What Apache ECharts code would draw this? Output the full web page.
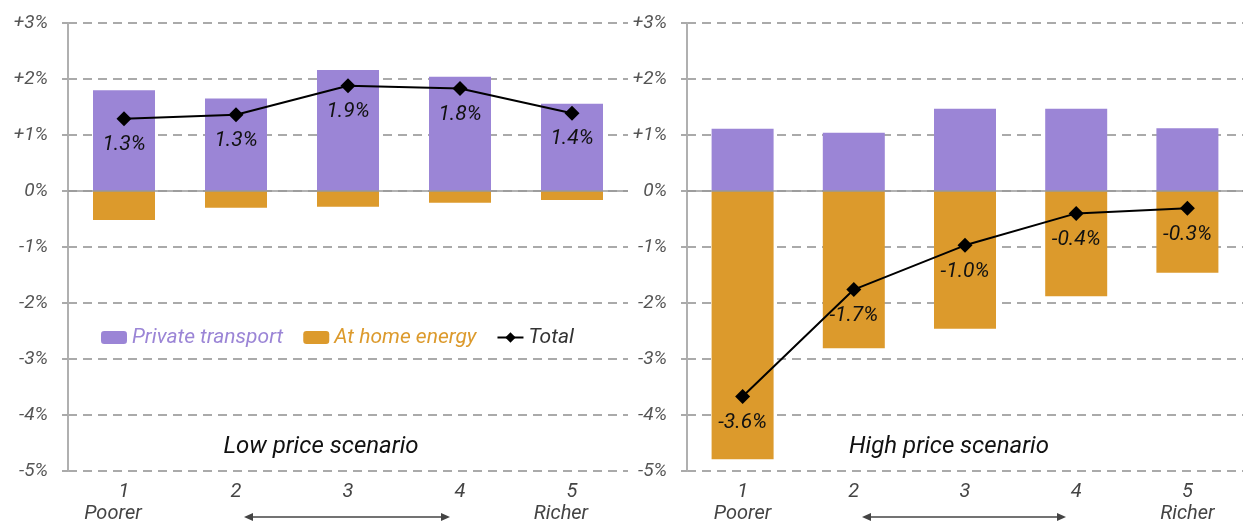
<!DOCTYPE html>
<html lang="en">
<head>
    <meta charset="UTF-8">
    <title>Low vs high price scenario</title>
    <script src="https://cdn.jsdelivr.net/npm/echarts@6.0.0/dist/echarts.min.js"></script>
    <style>
        html, body { margin: 0; padding: 0; background: #fff; }
        #chart { width: 1243px; height: 527px; }
    </style>
</head>
<body>
    <div id="chart"></div>
    <script>
        // Income quintiles
        var categories = ['1', '2', '3', '4', '5'];
        var categoryNotes = ['Poorer', '', '', '', 'Richer'];

        // Low price scenario (% change)
        var lowTransport = [1.80, 1.65, 2.16, 2.04, 1.56];
        var lowEnergy = [-0.52, -0.30, -0.28, -0.21, -0.16];
        var lowTotal = [1.29, 1.36, 1.88, 1.83, 1.39];
        var lowTotalLabels = ['1.3%', '1.3%', '1.9%', '1.8%', '1.4%'];

        // High price scenario (% change)
        var highTransport = [1.11, 1.04, 1.47, 1.47, 1.12];
        var highEnergy = [-4.79, -2.81, -2.46, -1.88, -1.46];
        var highTotal = [-3.67, -1.76, -0.97, -0.40, -0.31];
        var highTotalLabels = ['-3.6%', '-1.7%', '-1.0%', '-0.4%', '-0.3%'];

        var purple = '#9b85d6';
        var orange = '#dc9a2c';
        var font = 'Roboto';

        var chart = echarts.init(document.getElementById('chart'));

        function yAxis(idx) {
            return {
                gridIndex: idx, type: 'value', min: -5, max: 3, interval: 1,
                axisLine: { show: true, lineStyle: { color: '#b0b0b0', width: 2 } },
                axisTick: { show: true, length: 6, lineStyle: { color: '#aaa', width: 2 } },
                splitLine: { lineStyle: { color: '#aaa', width: 2, type: [9, 6] } },
                axisLabel: {
                    margin: 20, fontSize: 19, fontStyle: 'italic', fontFamily: font, color: '#555',
                    formatter: function (v) { return (v > 0 ? '+' : '') + v + '%'; }
                }
            };
        }

        function xAxis(idx, shift) {
            var base = { fontSize: 20, lineHeight: 22, fontStyle: 'italic', fontFamily: font, color: '#444' };
            return {
                gridIndex: idx, type: 'category', data: categories, position: 'bottom',
                axisLine: { show: false }, axisTick: { show: false },
                axisLabel: {
                    margin: 10, interval: 0,
                    fontSize: 20, lineHeight: 22, fontStyle: 'italic', fontFamily: font, color: '#444',
                    formatter: function (v, i) {
                        var note = categoryNotes[i];
                        return note ? '{n|' + v + '}\n{p|' + note + '}' : '{n|' + v + '}';
                    },
                    rich: {
                        n: base,
                        p: Object.assign({}, base, { padding: [0, shift, 0, 0] })
                    }
                }
            };
        }

        function barSeries(name, idx, data, color, stack, zero) {
            var s = {
                name: name, type: 'bar', stack: stack, xAxisIndex: idx, yAxisIndex: idx,
                data: data, barWidth: 62, itemStyle: { color: color }
            };
            if (zero) {
                s.markLine = {
                    silent: true, symbol: 'none', label: { show: false },
                    lineStyle: { color: '#999', type: 'solid', width: 1.5 },
                    data: [{ yAxis: 0 }]
                };
            }
            return s;
        }

        function totalSeries(idx, data, labels) {
            return {
                name: 'Total', type: 'line', xAxisIndex: idx, yAxisIndex: idx, data: data,
                symbol: 'diamond', symbolSize: 15, z: 5,
                lineStyle: { color: '#000', width: 2 },
                itemStyle: { color: '#000' },
                label: {
                    show: true, position: 'bottom', distance: 8, fontSize: 21,
                    fontStyle: 'italic', fontFamily: font, color: '#111',
                    formatter: function (p) { return labels[p.dataIndex]; }
                }
            };
        }

        function arrow(x1, x2, y) {
            return [
                { type: 'line', shape: { x1: x1 + 4, y1: y, x2: x2 - 4, y2: y }, style: { stroke: '#444', lineWidth: 1.5 } },
                { type: 'polygon', shape: { points: [[x1, y], [x1 + 9, y - 4], [x1 + 9, y + 4]] }, style: { fill: '#444' } },
                { type: 'polygon', shape: { points: [[x2, y], [x2 - 9, y - 4], [x2 - 9, y + 4]] }, style: { fill: '#444' } }
            ];
        }

        var titleStyle = { fontSize: 24, fontWeight: 'normal', fontStyle: 'italic', fontFamily: font, color: '#111' };

        var option = {
            animation: false,
            title: [
                { text: 'Low price scenario', left: 316, top: 430, textAlign: 'center', textStyle: titleStyle },
                { text: 'High price scenario', left: 944, top: 430, textAlign: 'center', textStyle: titleStyle }
            ],
            legend: {
                left: 96, top: 322, itemWidth: 26, itemHeight: 13, itemGap: 20,
                textStyle: { fontSize: 21, fontStyle: 'italic', fontFamily: font },
                data: [
                    { name: 'Private transport', textStyle: { color: purple } },
                    { name: 'At home energy', textStyle: { color: orange } },
                    { name: 'Total', textStyle: { color: '#333' } }
                ]
            },
            grid: [
                { left: 68, top: 23, width: 560, height: 448 },
                { left: 687, top: 23, width: 557, height: 448 }
            ],
            xAxis: [xAxis(0, 22), xAxis(1, 0)],
            yAxis: [yAxis(0), yAxis(1)],
            series: [
                barSeries('Private transport', 0, lowTransport, purple, 'low', true),
                barSeries('At home energy', 0, lowEnergy, orange, 'low', false),
                totalSeries(0, lowTotal, lowTotalLabels),
                barSeries('Private transport', 1, highTransport, purple, 'high', true),
                barSeries('At home energy', 1, highEnergy, orange, 'high', false),
                totalSeries(1, highTotal, highTotalLabels)
            ],
            graphic: arrow(244, 450, 517).concat(arrow(862, 1066, 517))
        };

        chart.setOption(option);
    </script>
</body>
</html>
